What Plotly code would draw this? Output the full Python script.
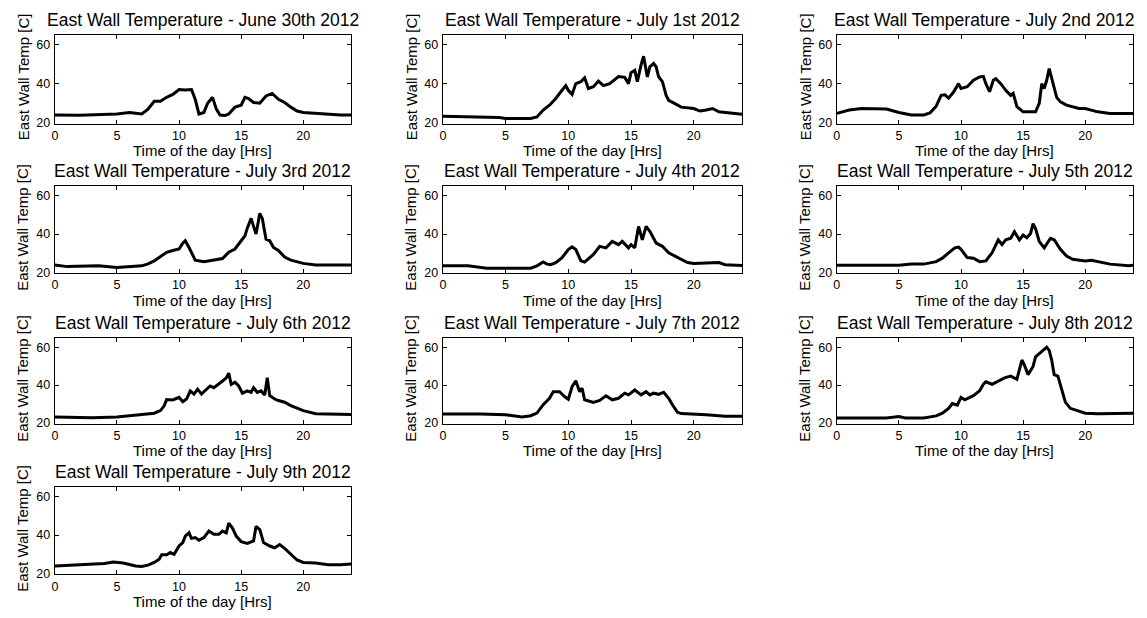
import plotly.graph_objects as go

# Hourly east-wall surface temperature readings, one pair of arrays per day
hours_jun30 = [0, 2, 5, 6, 7, 7.5, 8, 8.5, 9, 9.5, 10, 10.5, 11, 11.3, 11.6, 12, 12.3, 12.7, 13, 13.3,
               13.7, 14, 14.5, 15, 15.3, 15.6, 16, 16.5, 17, 17.5, 18, 18.5, 19, 19.5, 20, 21, 22, 23, 23.85]
temp_jun30 = [24, 23.8, 24.5, 25.3, 24.5, 27, 31, 31, 33, 34.5, 37, 36.7, 37, 32, 24.5, 25.3, 30, 33, 27, 24,
              23.7, 24.5, 28, 29, 33, 32.4, 30.4, 30, 33.7, 35, 32, 30.4, 28, 26, 25.3, 24.8, 24.4, 24, 24]

hours_jul01 = [0, 2, 4.5, 5, 7, 7.5, 8, 8.5, 9, 9.5, 9.8, 10, 10.3, 10.6, 11, 11.3, 11.6, 12, 12.4, 12.8,
               13.3, 14, 14.5, 14.8, 15, 15.3, 15.5, 15.8, 16, 16.3, 16.5, 16.8, 17, 17.2, 17.5, 17.8, 18,
               18.5, 19, 20, 20.5, 21, 21.5, 22, 23, 23.85]
temp_jul01 = [23.4, 23, 22.7, 22.2, 22.2, 23, 26.5, 29, 32.4, 36.6, 39, 36.6, 34.5, 40, 41, 43, 37.5, 38.4,
              41.3, 39, 40, 43.6, 43.2, 40, 45.6, 46.8, 41, 49.6, 54, 43.4, 48.6, 50.3, 48.6, 43.5, 41, 34,
              31.5, 29.8, 28, 27.3, 26, 26.5, 27.3, 25.6, 24.8, 24.4]

hours_jul02 = [0, 1, 2, 4, 5, 6, 7, 7.5, 8, 8.4, 8.7, 9, 9.4, 9.8, 10, 10.5, 11, 11.5, 11.8, 12, 12.3,
               12.6, 12.8, 13.2, 13.6, 14, 14.2, 14.5, 15, 16, 16.3, 16.5, 16.7, 16.9, 17.1, 17.4, 17.7,
               18, 18.5, 19.5, 20, 21, 22, 23.85]
temp_jul02 = [24.8, 26.5, 27.3, 27, 25.3, 24, 24, 25, 28.5, 34, 34.3, 32.6, 35.7, 40, 37.5, 38.4, 41.7,
              43.4, 43.7, 40, 35.9, 41.7, 42.5, 40, 36.6, 34, 35, 28.3, 25.6, 25.6, 29.9, 40, 37.5, 41.7,
              47.7, 40, 33, 30.7, 29, 27.3, 27.3, 25.6, 24.8, 24.8]

hours_jul03 = [0, 1, 3.5, 5, 7, 7.5, 8, 8.5, 9, 9.5, 10, 10.3, 10.5, 10.8, 11.3, 12, 13, 13.5, 14, 14.5,
               15, 15.3, 15.5, 15.8, 16, 16.2, 16.5, 16.7, 17, 17.3, 17.6, 18, 18.5, 19, 20, 21, 23.85]
temp_jul03 = [23.9, 23, 23.4, 22.5, 23.4, 24.4, 26, 28.4, 30.5, 31.4, 32.2, 35.2, 36.5, 33, 26.4, 25.5,
              26.4, 27.2, 30.5, 32.2, 36.5, 39, 43.2, 48.2, 44, 40, 50.8, 48.2, 37.3, 36.5, 33, 31.4, 28,
              26.4, 24.7, 23.9, 23.9]

hours_jul04 = [0, 2, 3.5, 7, 7.5, 8, 8.3, 8.6, 9, 9.5, 10, 10.3, 10.6, 11, 11.3, 12, 12.5, 13, 13.5, 14,
               14.3, 14.8, 15, 15.3, 15.6, 15.9, 16.2, 16.5, 17, 17.5, 18, 19, 19.5, 20, 22, 22.5, 23.85]
temp_jul04 = [23.4, 23.4, 22.2, 22.2, 23.4, 25.4, 24.3, 24, 25.1, 27.7, 31.9, 33.3, 31.9, 26, 25.4, 29.4,
              33.6, 32.8, 36.2, 34.5, 36.2, 32.8, 34.5, 32.8, 44, 37, 44, 41.4, 35.3, 33.6, 30.2, 26.8,
              25.1, 24.6, 25.1, 24, 23.6]

hours_jul05 = [0, 5, 6, 7, 8, 8.5, 9, 9.5, 9.8, 10, 10.5, 11, 11.5, 12, 12.5, 13, 13.3, 13.6, 14, 14.3,
               14.7, 15, 15.3, 15.6, 15.8, 16, 16.3, 16.7, 17.2, 17.5, 18, 18.5, 19, 20, 20.5, 21.5, 22,
               23.5, 23.85]
temp_jul05 = [23.7, 23.7, 24.3, 24.3, 25.6, 27.4, 30.2, 32.8, 33.2, 32, 27.7, 27.4, 25.6, 26, 30.2, 37,
              34.5, 37, 37.8, 41.2, 37, 39.5, 38.1, 40.3, 45.4, 42.9, 36.1, 32.8, 37.8, 37, 32, 28.5, 26.8,
              26, 26.3, 25.1, 24.3, 23.4, 23.7]

hours_jul06 = [0, 3, 5, 7, 8, 8.5, 8.8, 9, 9.5, 10, 10.3, 10.6, 10.9, 11.2, 11.5, 11.8, 12.2, 12.5, 12.8,
               13.2, 13.5, 13.8, 14, 14.2, 14.5, 14.8, 15.1, 15.5, 15.8, 16, 16.3, 16.6, 16.9, 17.1, 17.3,
               17.7, 18, 18.5, 19, 20, 21, 23.85]
temp_jul06 = [23.1, 22.7, 23.1, 24.3, 25.1, 26.5, 29, 32.3, 32.1, 33.5, 31.2, 32.6, 36.9, 35.2, 37.8, 35.2,
              37.8, 39.5, 38.6, 40.9, 42.1, 43.8, 46.3, 40.3, 41.5, 39.5, 35.7, 36.9, 36.1, 38.6, 36.1,
              36.9, 34.7, 43.8, 34.4, 32.6, 31.8, 30.9, 29.1, 26.5, 24.8, 24.5]

hours_jul07 = [0, 3, 5, 6.3, 7, 7.5, 8, 8.5, 8.8, 9.3, 9.7, 10, 10.3, 10.6, 10.9, 11.1, 11.3, 12, 12.5,
               13, 13.5, 14, 14.5, 14.8, 15.3, 15.8, 16.2, 16.5, 16.8, 17.2, 17.6, 18, 18.3, 18.7, 19, 20,
               21, 22.5, 23.85]
temp_jul07 = [24.7, 24.7, 24.3, 23.1, 23.8, 25.2, 29.6, 33, 36.5, 36.5, 33.9, 32.5, 39.1, 42.3, 36.5, 38.3,
              32.2, 30.8, 31.9, 34.3, 32.2, 33, 35.7, 34.8, 37.4, 34.8, 36.5, 34.8, 35.7, 35.1, 36.2, 33,
              29.6, 25.6, 24.9, 24.7, 24.3, 23.5, 23.5]

hours_jul08 = [0, 4, 5, 5.5, 7, 8, 8.5, 9, 9.3, 9.7, 10, 10.3, 11, 11.5, 11.8, 12, 12.5, 13, 13.5, 14,
               14.5, 14.7, 14.9, 15.1, 15.4, 15.8, 16, 16.3, 16.6, 16.9, 17.1, 17.3, 17.5, 17.8, 18.1,
               18.4, 18.8, 19.5, 20, 21, 22.5, 23, 23.85]
temp_jul08 = [22.6, 22.6, 23.4, 22.6, 22.6, 23.7, 25.1, 27.7, 30.2, 29.4, 33.5, 32.2, 34.4, 37, 40.4, 41.7,
              40.4, 42.1, 43.8, 44.7, 43, 48.1, 53.2, 50.6, 45.5, 49.8, 54.9, 56.6, 58.3, 60, 58.3, 53.2,
              45.5, 44.7, 37.8, 31, 27.7, 26, 25.1, 24.8, 24.8, 25.1, 25.1]

hours_jul09 = [0, 2, 4, 4.7, 5.5, 6.5, 7, 7.5, 8, 8.4, 8.6, 9, 9.3, 9.6, 10, 10.3, 10.5, 10.8, 11, 11.3,
               11.6, 12, 12.4, 12.8, 13.2, 13.5, 13.8, 14, 14.3, 14.6, 15, 15.5, 16, 16.2, 16.5, 16.8,
               17.3, 17.7, 18.1, 18.5, 19, 19.5, 20, 21, 22, 23, 23.85]
temp_jul09 = [23.9, 24.5, 25.2, 26, 25.4, 23.9, 23.6, 24.3, 25.7, 27.4, 29.7, 29.7, 30.9, 30, 34.3, 36.1,
              39.5, 41.2, 38.3, 38.7, 37.3, 38.7, 42.1, 40.4, 40.4, 42.1, 41.2, 46.3, 43.7, 39.5, 36.6,
              35.7, 37, 44.6, 42.9, 36.1, 34.3, 33.4, 35.1, 33.1, 29.9, 27, 25.7, 25.4, 24.5, 24.5, 24.9]

day_labels = ["June 30th 2012", "July 1st 2012", "July 2nd 2012", "July 3rd 2012", "July 4th 2012",
              "July 5th 2012", "July 6th 2012", "July 7th 2012", "July 8th 2012", "July 9th 2012"]
day_hours = [hours_jun30, hours_jul01, hours_jul02, hours_jul03, hours_jul04,
             hours_jul05, hours_jul06, hours_jul07, hours_jul08, hours_jul09]
day_temps = [temp_jun30, temp_jul01, temp_jul02, temp_jul03, temp_jul04,
             temp_jul05, temp_jul06, temp_jul07, temp_jul08, temp_jul09]

x_ticks = [0, 5, 10, 15, 20]
y_ticks = [20, 40, 60]

# Page geometry (pixels) for the 3-column grid of axes
W, H = 1147, 618
col_px = [(52, 349), (441, 741), (836, 1133)]
row_px = [(35, 125), (188, 276), (341, 428), (492, 580)]

FONT = "Liberation Sans, Arial, Helvetica, sans-serif"

fig = go.Figure()
layout = dict(
    width=W, height=H,
    margin=dict(l=0, r=0, t=0, b=0),
    paper_bgcolor="white", plot_bgcolor="white",
    showlegend=False,
    font=dict(family=FONT, color="black", size=12),
)
annotations = []

for i, (label, hrs, tmp) in enumerate(zip(day_labels, day_hours, day_temps)):
    r, c = divmod(i, 3)
    n = i + 1
    sfx = "" if n == 1 else str(n)
    x0, x1 = col_px[c]
    top, bot = row_px[r]

    fig.add_trace(go.Scatter(
        x=hrs, y=tmp, mode="lines",
        line=dict(color="black", width=3),
        xaxis="x" + sfx, yaxis="y" + sfx,
        hoverinfo="skip",
    ))

    axis_common = dict(
        showline=True, linecolor="black", linewidth=1.3, mirror="ticks",
        ticks="inside", ticklen=4, tickwidth=1, tickcolor="black",
        showgrid=False, zeroline=False,
        tickfont=dict(family=FONT, size=12.5, color="black"),
    )
    layout["xaxis" + sfx] = dict(
        axis_common, domain=[x0 / W, x1 / W], range=[0, 23.85],
        tickvals=x_ticks, anchor="y" + sfx, ticklabelstandoff=0,
    )
    layout["yaxis" + sfx] = dict(
        axis_common, domain=[1 - bot / H, 1 - top / H], range=[19.5, 65],
        tickvals=y_ticks, anchor="x" + sfx, ticklabelstandoff=1,
    )

    cx = (x0 + x1) / 2 / W
    annotations.append(dict(
        text="East Wall Temperature - " + label, x=cx, y=1 - (top - 15) / H,
        xref="paper", yref="paper", xanchor="center", yanchor="middle",
        showarrow=False, font=dict(family=FONT, size=17.5, color="black"),
    ))
    annotations.append(dict(
        text="Time of the day [Hrs]", x=cx, y=1 - (bot + 27) / H,
        xref="paper", yref="paper", xanchor="center", yanchor="middle",
        showarrow=False, font=dict(family=FONT, size=15, color="black"),
    ))
    annotations.append(dict(
        text="East Wall Temp [C]", x=(x0 - 32) / W, y=1 - ((top + bot) / 2 - 3) / H,
        xref="paper", yref="paper", xanchor="center", yanchor="middle", textangle=-90,
        showarrow=False, font=dict(family=FONT, size=15, color="black"),
    ))

layout["annotations"] = annotations
fig.update_layout(**layout)
fig.write_html("out.html")
